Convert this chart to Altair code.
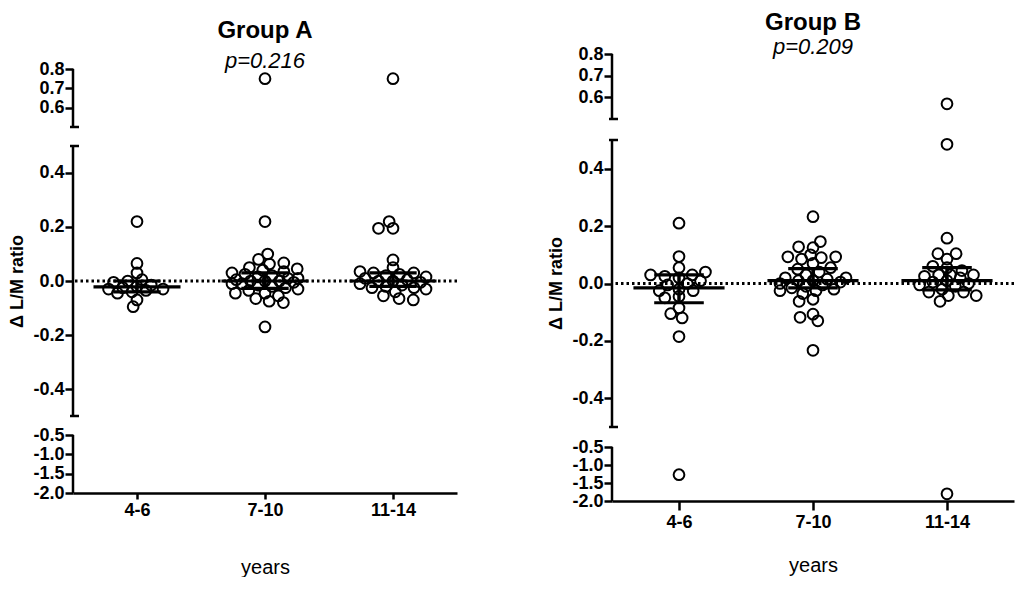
import json
import math
import numpy as np
import pandas as pd
import altair as alt

# ---------------- data ----------------
CATEGORIES = ["4-6", "7-10", "11-14"]
GROUP_NAMES = ["Group A", "Group B"]
P_LABELS = ["p=0.216", "p=0.209"]
Y_TITLE = "Δ L/M ratio"
X_TITLE = "years"

A_4_6 = [0.22, 0.065, 0.03, 0.005, 0.0, -0.005, -0.015, -0.02, -0.025, -0.03,
         -0.03, -0.035, -0.04, -0.045, -0.07, -0.095]
A_7_10 = [0.75, 0.22, 0.10, 0.08, 0.067, 0.063, 0.05, 0.045, 0.04, 0.035, 0.03,
          0.025, 0.02, 0.015, 0.01, 0.01, 0.005, 0.0, 0.0, 0.0, -0.005, -0.01,
          -0.01, -0.015, -0.02, -0.025, -0.03, -0.035, -0.045, -0.045, -0.055,
          -0.065, -0.075, -0.08, -0.17]
A_11_14 = [0.75, 0.22, 0.195, 0.195, 0.078, 0.05, 0.035, 0.03, 0.03, 0.025, 0.02,
           0.015, 0.01, 0.005, 0.0, 0.0, -0.005, -0.01, -0.015, -0.02, -0.025,
           -0.025, -0.03, -0.04, -0.055, -0.065, -0.07]
B_4_6 = [0.21, 0.094, 0.055, 0.04, 0.03, 0.03, 0.025, 0.02, 0.01, 0.0, -0.005,
         -0.02, -0.025, -0.025, -0.045, -0.05, -0.085, -0.105, -0.12, -0.185, -1.27]
B_7_10 = [0.233, 0.146, 0.128, 0.125, 0.1, 0.093, 0.093, 0.09, 0.085, 0.07, 0.055,
          0.05, 0.04, 0.03, 0.02, 0.02, 0.015, 0.01, 0.01, 0.005, 0.0, -0.005,
          -0.01, -0.015, -0.02, -0.025, -0.025, -0.035, -0.055, -0.062, -0.107,
          -0.118, -0.13, -0.233]
B_11_14 = [0.57, 0.485, 0.158, 0.104, 0.104, 0.085, 0.06, 0.055, 0.045, 0.03, 0.03,
           0.03, 0.025, 0.02, 0.01, 0.005, 0.0, -0.005, -0.01, -0.02, -0.03, -0.03,
           -0.042, -0.042, -0.062, -1.8]

A_MEDIAN = [-0.022, 0.0, 0.0]
A_LOWER = [-0.04, -0.027, -0.02]
A_UPPER = [0.0, 0.03, 0.03]
B_MEDIAN = [-0.015, 0.01, 0.01]
B_LOWER = [-0.067, -0.015, -0.022]
B_UPPER = [0.03, 0.052, 0.055]

Y_TICKS = [-2.0, -1.5, -1.0, -0.5, -0.4, -0.2, 0.0, 0.2, 0.4, 0.6, 0.7, 0.8]

GROUP_VALUES = [[A_4_6, A_7_10, A_11_14], [B_4_6, B_7_10, B_11_14]]
GROUP_STATS = [(A_MEDIAN, A_LOWER, A_UPPER), (B_MEDIAN, B_LOWER, B_UPPER)]

# ---------------- broken (piecewise) y axis ----------------
EPS = 1e-6
BREAKS = [-2.0, -0.5, -0.5 + EPS, 0.5 - EPS, 0.5, 0.8]
SEG_LO = [-2.0, -0.5 + EPS, 0.5]
SEG_HI = [-0.5, 0.5 - EPS, 0.8]
CAPS = [0.5, 0.5 - EPS, -0.5 + EPS]

STYLE = {
    "Group A": dict(width=384, height=439, rng=[439, 381, 362, 92, 73, 15],
                    title_offset=-18, sub_pad=8, title_y=227,
                    xtick=6, xlabpad=2, xtitlepad=38),
    "Group B": dict(width=402, height=447, rng=[447, 393, 373, 86, 65, 0],
                    title_offset=-13, sub_pad=2, title_y=229,
                    xtick=9, xlabpad=3, xtitlepad=24),
}


def swarm_offsets(values, center, rng, dx_min=14.5, dy_min=7.0, lim=33.0):
    """Beeswarm with an elliptical keep-out zone, limited to +-lim pixels."""
    py = np.interp(values, BREAKS, rng)
    order = sorted(range(len(values)), key=lambda i: (abs(values[i] - center), -values[i]))
    placed, offs = [], [0.0] * len(values)

    def sep(c, y, near):
        if not near:
            return 9.0
        return min(((c - px) / dx_min) ** 2 + ((y - pyy) / dy_min) ** 2 for px, pyy in near)

    for i in order:
        y = py[i]
        near = [(px, pyy) for px, pyy in placed if abs(pyy - y) < dy_min]
        cands = [0.0]
        for px, pyy in near:
            d = dx_min * math.sqrt(max(0.0, 1 - ((pyy - y) / dy_min) ** 2))
            cands += [px - d, px + d]
        cands = [c for c in cands if abs(c) <= lim]
        cands.sort(key=lambda c: (abs(c), c))
        chosen = next((c for c in cands if sep(c, y, near) >= 1 - 1e-9), None)
        if chosen is None:
            grid = np.linspace(-lim, lim, 133)
            chosen = float(max(grid, key=lambda c: (sep(c, y, near), -abs(c))))
        placed.append((chosen, y))
        offs[i] = chosen
    return offs


minus_fix = "replace(format(datum.value, '.1f'), '\u2212', '-')"
cat_expr = json.dumps(CATEGORIES) + "[datum.value - 1]"


def group_chart(gi):
    name = GROUP_NAMES[gi]
    st = STYLE[name]
    band = st["width"] / 3.0
    med, low, up = GROUP_STATS[gi]

    rows = []
    for ci, vals in enumerate(GROUP_VALUES[gi]):
        offs = swarm_offsets(vals, med[ci], st["rng"])
        for v, o in zip(vals, offs):
            rows.append({"cat": CATEGORIES[ci], "value": v, "xpos": ci + 1 + o / band})
    pts = pd.DataFrame(rows)
    stats = pd.DataFrame({"idx": [1, 2, 3], "median": med, "lower": low, "upper": up})
    segs = pd.DataFrame({"lo": SEG_LO, "hi": SEG_HI})
    caps = pd.DataFrame({"y": CAPS})
    zero = pd.DataFrame({"y": [0.0]})

    yscale = alt.Scale(domain=BREAKS, range=st["rng"], nice=False, zero=False)
    xscale = alt.Scale(domain=[0.5, 3.5], nice=False, zero=False)
    yaxis = alt.Axis(values=Y_TICKS, labelExpr=minus_fix, domain=False, grid=False,
                     labelOverlap=False, labelFlush=False,
                     tickSize=8, tickWidth=2.5, tickColor="black",
                     labelFontSize=18, labelFontWeight="bold", labelPadding=1,
                     labelColor="black", labelFont="Liberation Sans",
                     titleFontSize=18, titleFontWeight="bold", titleColor="black",
                     titleFont="Liberation Sans", titlePadding=6, titleY=st["title_y"])
    xaxis = alt.Axis(values=[1, 2, 3], labelExpr=cat_expr, grid=False, labelAngle=0,
                     labelOverlap=False, labelFlush=False,
                     domainWidth=2.5, domainColor="black",
                     tickSize=st["xtick"], tickWidth=2.5, tickColor="black",
                     labelFontSize=18, labelFontWeight="bold", labelPadding=st["xlabpad"],
                     labelColor="black", labelFont="Liberation Sans",
                     titleFontSize=20, titleFontWeight="normal", titleColor="black",
                     titleFont="Liberation Sans", titlePadding=st["xtitlepad"])

    def Y(field):
        return alt.Y(field, type="quantitative", scale=yscale, axis=yaxis, title=Y_TITLE)

    def X(field):
        return alt.X(field, type="quantitative", scale=xscale, axis=xaxis, title=X_TITLE)

    zero_line = alt.Chart(zero).mark_rule(color="black", strokeWidth=3,
                                          strokeDash=[2.5, 3]).encode(y=Y("y"))
    axis_segs = alt.Chart(segs).mark_rule(color="black", strokeWidth=2.5).encode(
        x=alt.value(0), y=Y("lo"), y2=alt.Y2("hi"))
    axis_caps = alt.Chart(caps).mark_rule(color="black", strokeWidth=2.5).encode(
        x=alt.value(-3), x2=alt.value(6), y=Y("y"))
    points = alt.Chart(pts).mark_point(shape="circle", filled=False, color="black",
                                       strokeWidth=2, size=115, opacity=1).encode(
        x=X("xpos"), y=Y("value"))
    long_line = alt.Chart(stats).transform_calculate(
        xa="datum.idx - 0.34", xb="datum.idx + 0.34").mark_rule(
        color="black", strokeWidth=3.2).encode(x=X("xa"), x2="xb:Q", y=Y("median"))
    low_line = alt.Chart(stats).transform_calculate(
        xa="datum.idx - 0.185", xb="datum.idx + 0.185").mark_rule(
        color="black", strokeWidth=3.2).encode(x=X("xa"), x2="xb:Q", y=Y("lower"))
    up_line = alt.Chart(stats).transform_calculate(
        xa="datum.idx - 0.185", xb="datum.idx + 0.185").mark_rule(
        color="black", strokeWidth=3.2).encode(x=X("xa"), x2="xb:Q", y=Y("upper"))
    vert = alt.Chart(stats).mark_rule(color="black", strokeWidth=3.5).encode(
        x=X("idx"), y=Y("lower"), y2=alt.Y2("upper"))

    return alt.layer(zero_line, axis_segs, axis_caps, points, long_line, low_line,
                     up_line, vert).properties(
        width=st["width"], height=st["height"],
        title=alt.TitleParams(text=name, subtitle=P_LABELS[gi], anchor="middle",
                              frame="group", fontSize=24, fontWeight="bold",
                              font="Liberation Sans", color="black",
                              subtitleFont="Liberation Sans", subtitleFontSize=22,
                              subtitleFontStyle="italic", subtitleFontWeight="normal",
                              subtitleColor="black", subtitlePadding=st["sub_pad"],
                              offset=st["title_offset"]))


chart = alt.hconcat(group_chart(0), group_chart(1), spacing=88).properties(
    padding={"left": 0, "top": 3, "right": 0, "bottom": 0}
).configure_view(stroke=None)

chart.save("out.html", embed_options={"renderer": "svg", "actions": False})
